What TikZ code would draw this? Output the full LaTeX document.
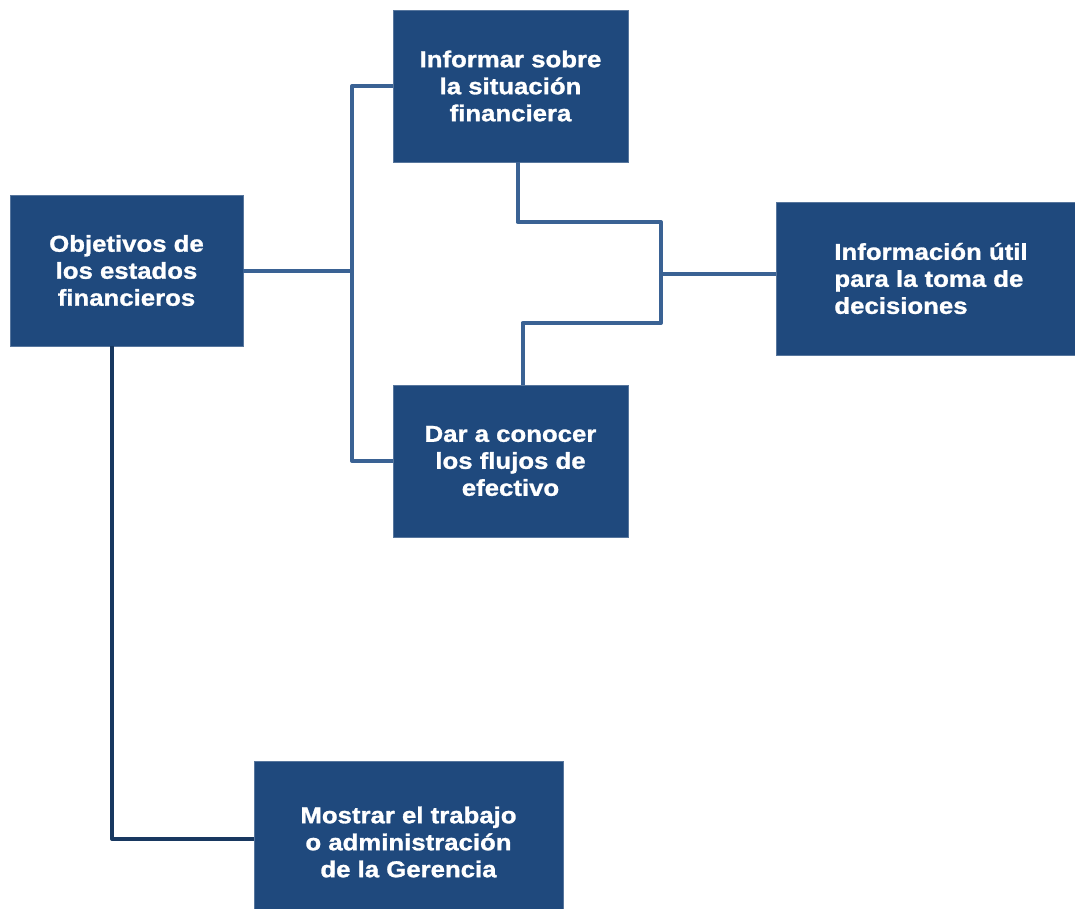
\documentclass[tikz,border=0pt]{standalone}
\usepackage{fontspec}
\setmainfont[FakeStretch=1.12]{Liberation Sans}
\newfontfamily\boxfont[FakeStretch=1.12, FakeBold=1.2]{Liberation Sans Bold}
\usetikzlibrary{positioning}
\definecolor{boxblue}{RGB}{31,73,125}
\definecolor{lineblue}{RGB}{58,98,148}
\definecolor{linedark}{RGB}{24,56,96}

\begin{document}
\begin{tikzpicture}[x=1pt, y=-1pt,
   every node/.style={fill=boxblue, draw=boxblue!75!white, line width=0.6pt, text=white,
                      font=\fontsize{23}{27}\selectfont\boxfont, align=center, inner sep=0pt},
   goalbox/.style={minimum width=233pt, minimum height=151pt},
   midbox/.style={minimum width=235pt, minimum height=152pt},
   link/.style={draw=lineblue, line width=4pt, line join=round},
   darklink/.style={draw=linedark, line width=4pt, line join=round}]

\useasboundingbox (0,0) rectangle (1075,908);

\node[goalbox] (obj) at (126.5,270.5) {Objetivos de\\los estados\\financieros};
\node[midbox] (inf) at (510.5,86) {Informar sobre\\la situación\\financiera};
\node[midbox] (dar) at (510.5,461) {Dar a conocer\\los flujos de\\efectivo};
\node[minimum width=310pt, minimum height=153pt, align=left] (util) at (931,278.5)
    {Información útil\\para la toma de\\decisiones};
\node[minimum width=309pt, minimum height=162pt] (mgmt) at (408.5,842)
    {Mostrar el trabajo\\o administración\\de la Gerencia};

\coordinate (split) at (352,270.5);
\coordinate (mergetop) at (661,222);
\coordinate (mergebot) at (661,323);

\draw[link] (obj.east) -- (split);
\draw[link] (inf.west) -| (split) |- (dar.west);
\draw[link] ([xshift=7pt]inf.south) |- (mergetop) -- (mergebot) -| ([xshift=12pt]dar.north);
\draw[link] ([yshift=5pt]util.west) -- ([yshift=5pt]util.west -| mergetop);
\draw[darklink] ([xshift=-14.5pt]obj.south) |- ([yshift=3pt]mgmt.west);

\end{tikzpicture}
\end{document}
